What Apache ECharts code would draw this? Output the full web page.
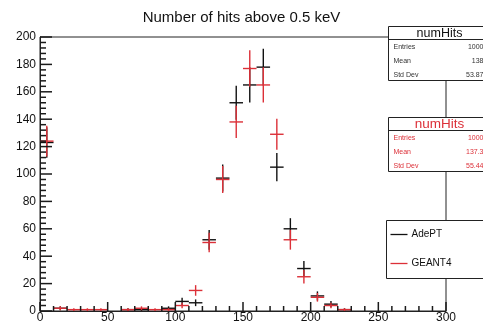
<!DOCTYPE html>
<html>
<head>
<meta charset="utf-8">
<script src="https://cdn.jsdelivr.net/npm/echarts@6/dist/echarts.min.js"></script>
<style>
  html, body { margin: 0; padding: 0; background: #fff; }
  #chart { width: 483px; height: 324px; }
</style>
</head>
<body>
<div id="chart"></div>
<script>
// histogram bins, width 10
var binLow = [0, 10, 20, 30, 40, 50, 60, 70, 80, 90, 100, 110, 120, 130, 140,
              150, 160, 170, 180, 190, 200, 210, 220, 230, 240, 250, 260, 270, 280, 290];
var binWidth = 10;
var adeptCounts = [123, 2, 0, 0, 0, 0, 1, 1, 0, 2, 7, 6, 52, 97, 152,
                   165, 178, 105, 60, 31, 11, 5, 1, 0, 0, 0, 0, 0, 0, 0];
var geant4Counts = [124, 2, 1, 1, 1, 0, 1, 2, 1, 1, 4, 15, 50, 96, 138,
                    177, 165, 129, 52, 25, 10, 4, 1, 0, 0, 0, 0, 0, 0, 0];
var statLabels = ['Entries', 'Mean', 'Std Dev'];
var adeptStats = ['1000', '138', '53.87'];
var geant4Stats = ['1000', '137.3', '55.44'];
var xMajorTicks = [0, 50, 100, 150, 200, 250, 300];
var yMajorTicks = [0, 20, 40, 60, 80, 100, 120, 140, 160, 180, 200];

var RED = '#dc3038';
var FONT = 'Liberation Sans, Arial, sans-serif';

function toData(counts) {
    var out = [];
    for (var i = 0; i < binLow.length; i++) {
        out.push([binLow[i], binLow[i] + binWidth, counts[i]]);
    }
    return out;
}

function makeRender(color) {
    return function (params, api) {
        var lo = api.value(0), hi = api.value(1), v = api.value(2);
        if (v <= 0) return;
        var e = Math.sqrt(v);
        var a = api.coord([lo, v]), b = api.coord([hi, v]);
        var c = api.coord([(lo + hi) / 2, v + e]);
        var d = api.coord([(lo + hi) / 2, Math.max(v - e, 0)]);
        var st = {stroke: color, lineWidth: 1.4};
        return {
            type: 'group',
            children: [
                {type: 'line', shape: {x1: a[0], y1: a[1], x2: b[0], y2: b[1]}, style: st},
                {type: 'line', shape: {x1: c[0], y1: c[1], x2: d[0], y2: d[1]}, style: st}
            ]
        };
    };
}

// tick rows: [x value, y value, direction (0 = up from x axis, 1 = right from y axis), length]
function tickData() {
    var out = [], v;
    for (v = 0; v <= 300; v += 10) out.push([v, 0, 0, xMajorTicks.indexOf(v) >= 0 ? 9 : 5]);
    for (v = 0; v <= 200; v += 4) out.push([0, v, 1, yMajorTicks.indexOf(v) >= 0 ? 12 : 6]);
    return out;
}

function renderTick(params, api) {
    var p = api.coord([api.value(0), api.value(1)]);
    var len = api.value(3);
    var st = {stroke: '#1a1a1a', lineWidth: 1.5};
    if (api.value(2) === 0) {
        return {type: 'line', shape: {x1: p[0], y1: p[1], x2: p[0], y2: p[1] - len}, style: st};
    }
    return {type: 'line', shape: {x1: p[0], y1: p[1], x2: p[0] + len, y2: p[1]}, style: st};
}

function statBox(top, titleColor, textColor, values, titleSize) {
    var w = 110, h = 54, titleH = 13;
    var kids = [
        {type: 'rect', shape: {x: 0, y: 0, width: w, height: h},
         style: {fill: '#fff', stroke: '#222', lineWidth: 1}},
        {type: 'line', shape: {x1: 0, y1: titleH, x2: w, y2: titleH},
         style: {stroke: '#222', lineWidth: 1}},
        {type: 'text', x: 51, y: titleH / 2 + 0.5,
         style: {text: 'numHits', fill: titleColor, font: titleSize + 'px ' + FONT,
                 align: 'center', verticalAlign: 'middle'}}
    ];
    for (var i = 0; i < statLabels.length; i++) {
        var yy = titleH + 8 + i * 14;
        kids.push({type: 'text', x: 5, y: yy,
            style: {text: statLabels[i], fill: textColor, font: '7px ' + FONT, verticalAlign: 'middle'}});
        kids.push({type: 'text', x: 95, y: yy,
            style: {text: values[i], fill: textColor, font: '7px ' + FONT, align: 'right', verticalAlign: 'middle'}});
    }
    return {type: 'group', left: 386, top: top, z: 100, children: kids};
}

var chart = echarts.init(document.getElementById('chart'));
chart.setOption({
    animation: false,
    title: {
        text: 'Number of hits above 0.5 keV',
        left: 'center', top: 5,
        textStyle: {fontFamily: FONT, fontSize: 15, fontWeight: 'normal', color: '#111'}
    },
    grid: {left: 40, right: 37, top: 37, bottom: 11, show: true, borderColor: '#222'},
    xAxis: {
        type: 'value', min: 0, max: 300, interval: 50,
        axisLine: {show: true, lineStyle: {color: '#222'}},
        axisTick: {show: false},
        splitLine: {show: false},
        axisLabel: {margin: 1, fontFamily: FONT, fontSize: 12, color: '#111'}
    },
    yAxis: {
        type: 'value', min: 0, max: 200, interval: 20,
        axisLine: {show: true, lineStyle: {color: '#222'}},
        axisTick: {show: false},
        splitLine: {show: false},
        axisLabel: {margin: 4, fontFamily: FONT, fontSize: 12, color: '#111'}
    },
    series: [
        {name: 'ticks', type: 'custom', renderItem: renderTick, silent: true, z: 5,
         encode: {x: 0, y: 1}, data: tickData(), clip: false},
        {name: 'AdePT', type: 'custom', renderItem: makeRender('#111'),
         encode: {x: [0, 1], y: 2}, data: toData(adeptCounts)},
        {name: 'GEANT4', type: 'custom', renderItem: makeRender(RED),
         encode: {x: [0, 1], y: 2}, data: toData(geant4Counts)}
    ],
    graphic: [
        statBox(26, '#111', '#333', adeptStats, 12.5),
        statBox(117, RED, RED, geant4Stats, 13.5),
        {type: 'group', left: 386, top: 220, z: 100, children: [
            {type: 'rect', shape: {x: 0, y: 0, width: 110, height: 58},
             style: {fill: '#fff', stroke: '#222', lineWidth: 1}},
            {type: 'line', shape: {x1: 4, y1: 14, x2: 21, y2: 14}, style: {stroke: '#111', lineWidth: 1.3}},
            {type: 'text', x: 25, y: 14, style: {text: 'AdePT', fill: '#111', font: '10px ' + FONT, verticalAlign: 'middle'}},
            {type: 'line', shape: {x1: 4, y1: 43, x2: 21, y2: 43}, style: {stroke: RED, lineWidth: 1.3}},
            {type: 'text', x: 25, y: 43, style: {text: 'GEANT4', fill: '#111', font: '10px ' + FONT, verticalAlign: 'middle'}}
        ]}
    ]
});
</script>
</body>
</html>
